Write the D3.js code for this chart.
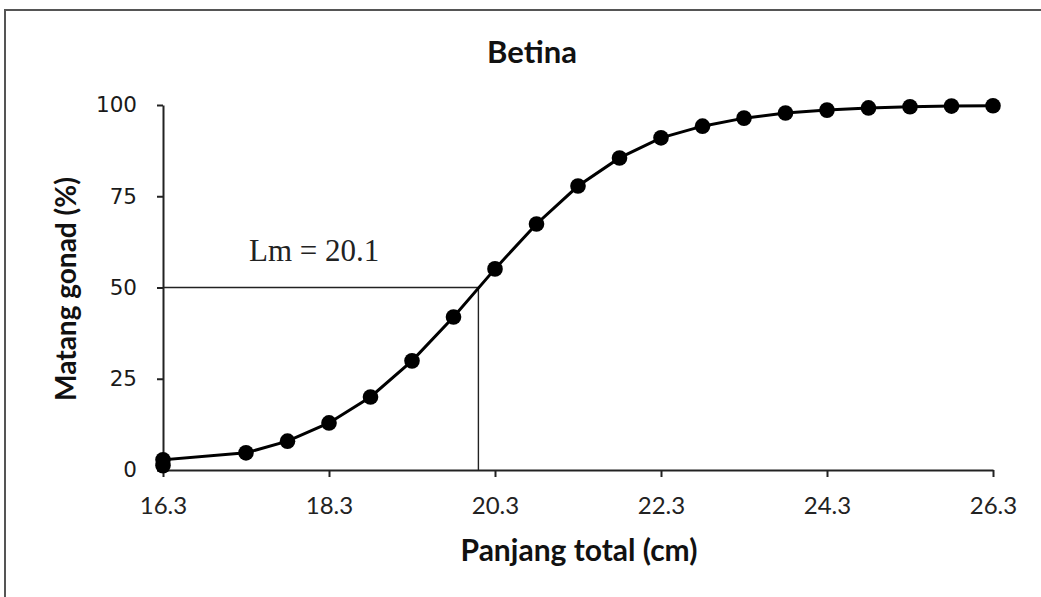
<!DOCTYPE html>
<html>
<head>
<meta charset="utf-8">
<script src="https://cdn.jsdelivr.net/npm/d3@7"></script>
<style>
  body { margin: 0; background: #fff; }
</style>
</head>
<body>
<div id="chart"></div>
<script>
// Panjang total (cm) and percent mature
const lengths = [16.3, 16.3, 17.3, 17.8, 18.3, 18.8, 19.3, 19.8, 20.3, 20.8, 21.3,
                 21.8, 22.3, 22.8, 23.3, 23.8, 24.3, 24.8, 25.3, 25.8, 26.3];
const mature = [1.2, 2.8, 4.7, 7.9, 12.9, 20.0, 29.9, 41.9, 55.1, 67.4, 77.8,
                85.5, 91.0, 94.2, 96.4, 97.8, 98.6, 99.2, 99.5, 99.7, 99.8];
const xTicks = [16.3, 18.3, 20.3, 22.3, 24.3, 26.3];
const yTicks = [0, 25, 50, 75, 100];
const lm = 20.1;
const lmLevel = 50;

const width = 1041;
const height = 597;
const margin = { top: 105, right: 48, bottom: 127, left: 163 };

const svg = d3.select("#chart")
              .append("svg")
              .attr("width", width)
              .attr("height", height);

// frame (only top and left edges show in the picture)
svg.append("path")
   .attr("d", `M5,597 L5,10 L1041,10`)
   .attr("fill", "none")
   .attr("stroke", "#555")
   .attr("stroke-width", 2);

const x = d3.scaleLinear()
            .domain([16.3, 26.3])
            .range([margin.left, width - margin.right]);
const y = d3.scaleLinear()
            .domain([0, 100])
            .range([height - margin.bottom, margin.top]);

// Axes
const xAxis = svg.append("g")
                 .attr("transform", `translate(0,${y(0)})`)
                 .call(d3.axisBottom(x).tickValues(xTicks).tickSize(7).tickSizeOuter(0)
                         .tickFormat(d3.format(".1f")));
xAxis.select(".domain").attr("stroke", "#222").attr("stroke-width", 2);
xAxis.selectAll(".tick line").attr("stroke", "#222").attr("stroke-width", 2);
xAxis.selectAll(".tick text")
     .attr("dy", 0)
     .attr("y", 44)
     .attr("fill", "#222")
     .style("font-family", "Lato, 'Open Sans', sans-serif")
     .style("font-size", "24px");

const yAxis = svg.append("g")
                 .attr("transform", `translate(${x(16.3)},0)`)
                 .call(d3.axisLeft(y).tickValues(yTicks).tickSize(6).tickSizeOuter(0));
yAxis.select(".domain").attr("stroke", "#222").attr("stroke-width", 2);
yAxis.selectAll(".tick text")
     .attr("x", -26)
     .attr("fill", "#1a1a1a")
     .style("font-family", "'DejaVu Sans', Verdana, sans-serif")
     .style("font-size", "21.5px");
yAxis.selectAll(".tick line").attr("stroke", "#222").attr("stroke-width", 2);

// Lm reference lines
svg.append("line")
   .attr("x1", x(16.3)).attr("x2", x(lm))
   .attr("y1", y(lmLevel)).attr("y2", y(lmLevel))
   .attr("stroke", "#222").attr("stroke-width", 1.4);
svg.append("line")
   .attr("x1", x(lm)).attr("x2", x(lm))
   .attr("y1", y(lmLevel)).attr("y2", y(0))
   .attr("stroke", "#222").attr("stroke-width", 1.4);

svg.append("text")
   .attr("x", 249)
   .attr("y", 261)
   .attr("fill", "#222")
   .style("font-family", "'Liberation Serif', 'Times New Roman', serif")
   .style("font-size", "31px")
   .text("Lm = 20.1");

// Curve and points
const points = lengths.map((l, i) => ({ l: l, p: mature[i] }));

svg.append("path")
   .datum(points)
   .attr("fill", "none")
   .attr("stroke", "#000")
   .attr("stroke-width", 3)
   .attr("d", d3.line().x(d => x(d.l)).y(d => y(d.p)));

svg.append("g")
   .selectAll("circle")
   .data(points)
   .enter().append("circle")
   .attr("cx", d => x(d.l))
   .attr("cy", d => y(d.p))
   .attr("r", 7.8)
   .attr("fill", "#000");

// Titles
svg.append("text")
   .attr("x", 532)
   .attr("y", 63)
   .attr("text-anchor", "middle")
   .attr("fill", "#111")
   .style("font-family", "Lato, 'Open Sans', sans-serif")
   .style("font-weight", "bold")
   .style("font-size", "31px")
   .text("Betina");

svg.append("text")
   .attr("x", 579)
   .attr("y", 561)
   .attr("text-anchor", "middle")
   .attr("fill", "#111")
   .style("font-family", "Lato, 'Open Sans', sans-serif")
   .style("font-weight", "bold")
   .style("font-size", "30px")
   .text("Panjang total (cm)");

svg.append("text")
   .attr("transform", `translate(76,289) rotate(-90)`)
   .attr("text-anchor", "middle")
   .attr("fill", "#111")
   .style("font-family", "Lato, 'Open Sans', sans-serif")
   .style("font-weight", "bold")
   .style("font-size", "28px")
   .text("Matang gonad (%)");
</script>
</body>
</html>
